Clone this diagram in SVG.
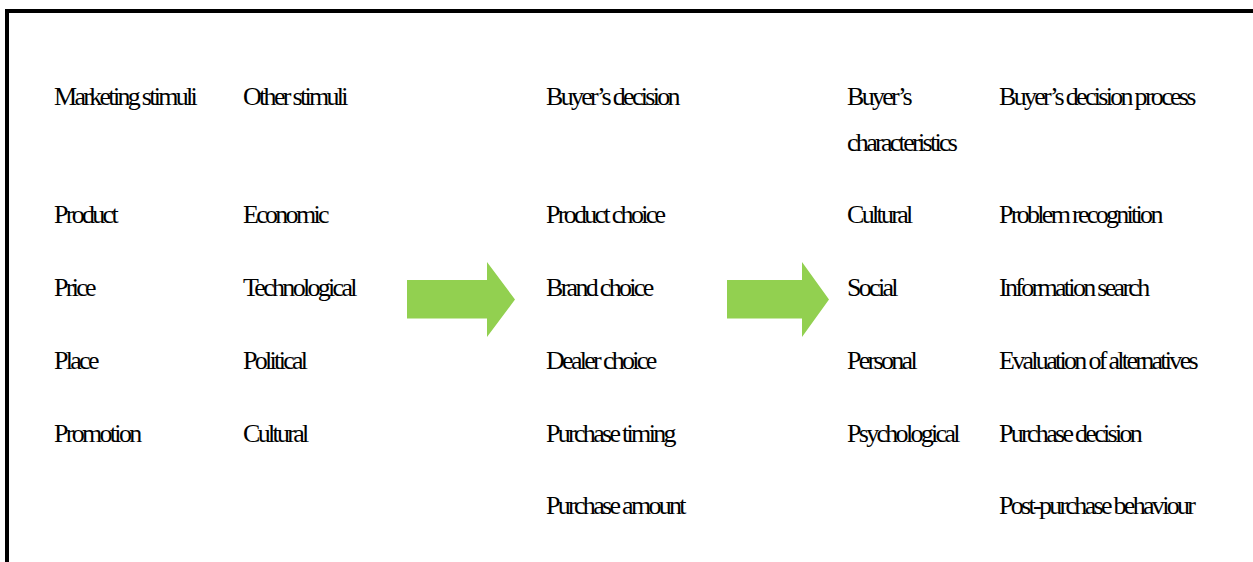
<svg xmlns="http://www.w3.org/2000/svg" width="1253" height="562" viewBox="0 0 1253 562">
<style>
.t{font-size:26px;letter-spacing:-2.7px;fill:#000}
.arrow{fill:#92D050}
.frame{fill:#000}
</style>
<rect width="1253" height="562" fill="#fff"/>
<g id="frame">
<rect class="frame" x="5" y="9" width="1248" height="4"/>
<rect class="frame" x="5" y="9" width="4" height="553"/>
</g>
<g font-family="Liberation Serif, Times New Roman, Times, serif" class="t">
<g id="col-marketing">
<text x="54" y="105">Marketing stimuli</text>
<text x="54" y="223">Product</text>
<text x="54" y="296">Price</text>
<text x="54" y="369">Place</text>
<text x="54" y="442">Promotion</text>
</g>
<g id="col-other">
<text x="243" y="105">Other stimuli</text>
<text x="243" y="223">Economic</text>
<text x="243" y="296">Technological</text>
<text x="243" y="369">Political</text>
<text x="243" y="442">Cultural</text>
</g>
<g id="col-decision">
<text x="546" y="105">Buyer’s decision</text>
<text x="546" y="223">Product choice</text>
<text x="546" y="296">Brand choice</text>
<text x="546" y="369">Dealer choice</text>
<text x="546" y="442">Purchase timing</text>
<text x="546" y="514">Purchase amount</text>
</g>
<g id="col-characteristics">
<text x="847" y="105">Buyer’s</text>
<text x="847" y="151">characteristics</text>
<text x="847" y="223">Cultural</text>
<text x="847" y="296">Social</text>
<text x="847" y="369">Personal</text>
<text x="847" y="442">Psychological</text>
</g>
<g id="col-process">
<text x="999" y="105">Buyer’s decision process</text>
<text x="999" y="223">Problem recognition</text>
<text x="999" y="296">Information search</text>
<text x="999" y="369">Evaluation of alternatives</text>
<text x="999" y="442">Purchase decision</text>
<text x="999" y="514">Post-purchase behaviour</text>
</g>
</g>
<g id="connectors">
<polygon class="arrow" points="407,280 487,280 487,262 515,299.5 487,337 487,318.5 407,318.5"/>
<polygon class="arrow" points="727,280 802,280 802,262 829,299.5 802,337 802,318.5 727,318.5"/>
</g>
</svg>
